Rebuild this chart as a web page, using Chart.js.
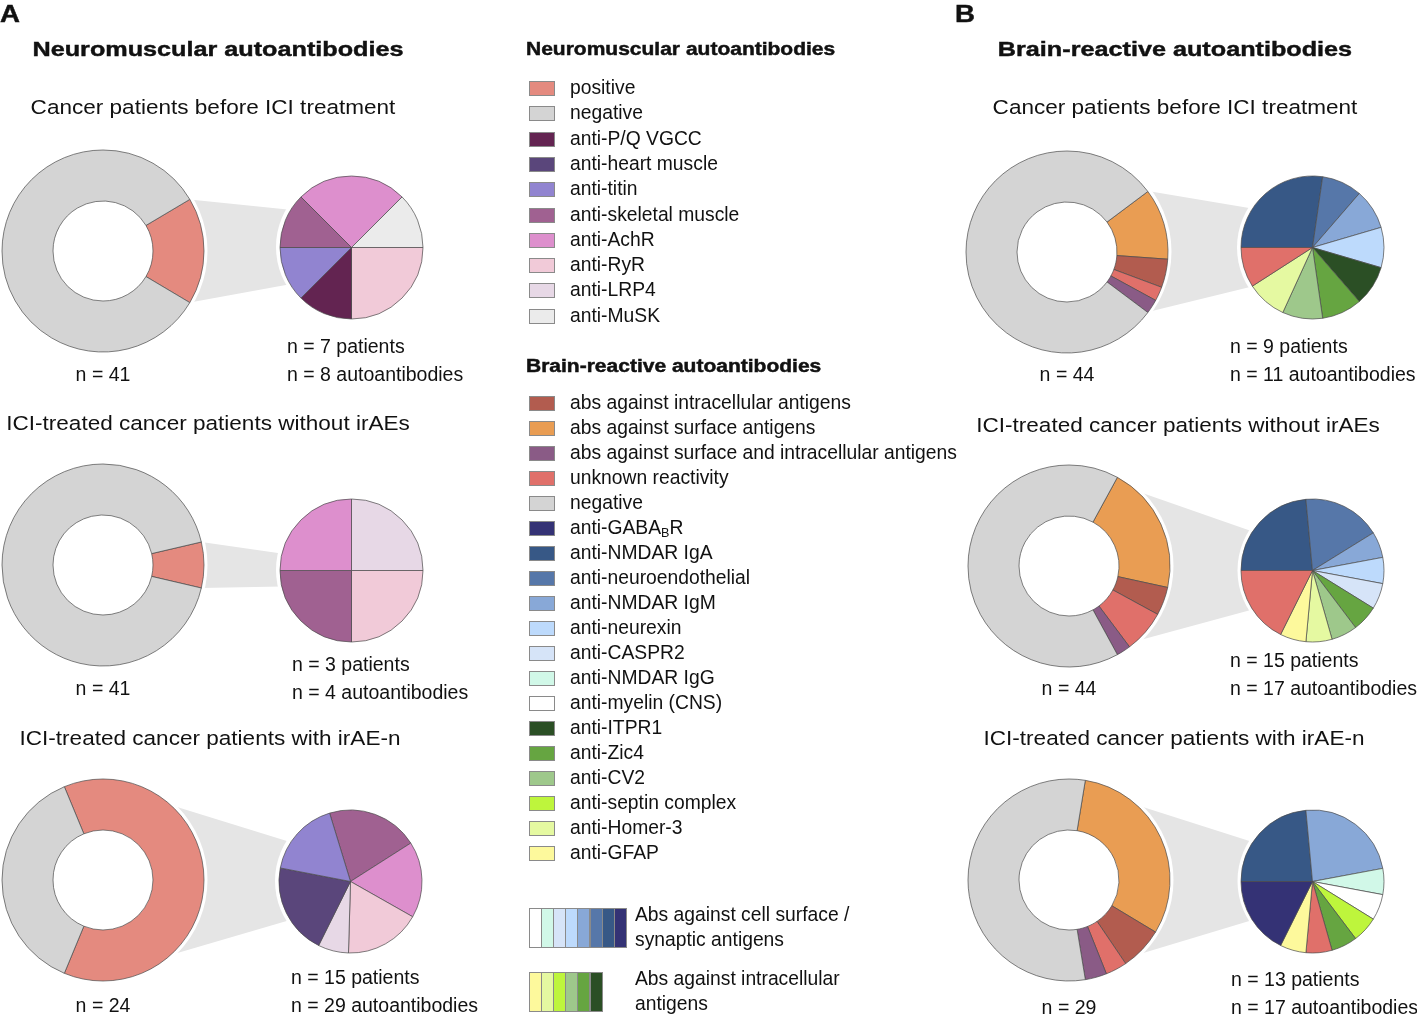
<!DOCTYPE html>
<html>
<head>
<meta charset="utf-8">
<script src="https://cdn.jsdelivr.net/npm/chart.js@4.4.1/dist/chart.umd.min.js"></script>
<style>
  body { margin:0; width:1417px; height:1016px; position:relative; overflow:hidden; background:#fff;
         font-family:"Liberation Sans", Arial, sans-serif; color:#111; }
  .t { position:absolute; white-space:nowrap; line-height:1; }
  .b { font-weight:bold; -webkit-text-stroke:0.45px #111; }
  .sw { position:absolute; box-sizing:border-box; border:1px solid #8a8a8a; }
  canvas.c { position:absolute; }
  sub { font-size:65%; vertical-align:-0.25em; line-height:0; }
</style>
</head>
<body>
<canvas id="links" width="1417" height="1016" style="position:absolute;left:0;top:0"></canvas>
<script>
// ---- data: neuromuscular (panel A) ----
const nmPositive = [7, 3, 15];
const nmNegative = [34, 38, 9];

const nmPie1Labels = ["anti-AchR", "anti-MuSK", "anti-RyR", "anti-P/Q VGCC", "anti-titin", "anti-skeletal muscle"];
const nmPie1Values = [2, 1, 2, 1, 1, 1];
const nmPie2Labels = ["anti-LRP4", "anti-RyR", "anti-skeletal muscle", "anti-AchR"];
const nmPie2Values = [1, 1, 1, 1];
const nmPie3Labels = ["anti-skeletal muscle", "anti-AchR", "anti-RyR", "anti-LRP4", "anti-heart muscle", "anti-titin"];
const nmPie3Values = [6, 5, 5, 2, 6, 5];

// ---- data: brain-reactive (panel B) ----
const brSurface = [5, 9, 9];
const brIntracellular = [2, 2, 2];
const brUnknown = [1, 3, 1];
const brBoth = [1, 1, 1];
const brNegative = [35, 29, 16];

const brPie1Labels = ["anti-NMDAR IgA", "anti-neuroendothelial", "anti-NMDAR IgM", "anti-neurexin", "anti-ITPR1", "anti-Zic4", "anti-CV2", "anti-Homer-3", "unknown reactivity"];
const brPie1Values = [3, 1, 1, 1, 1, 1, 1, 1, 1];
const brPie2Labels = ["anti-NMDAR IgA", "anti-neuroendothelial", "anti-NMDAR IgM", "anti-neurexin", "anti-CASPR2", "anti-Zic4", "anti-CV2", "anti-Homer-3", "anti-GFAP", "unknown reactivity"];
const brPie2Values = [4, 3, 1, 1, 1, 1, 1, 1, 1, 3];
const brPie3Labels = ["anti-NMDAR IgA", "anti-NMDAR IgM", "anti-NMDAR IgG", "anti-myelin (CNS)", "anti-septin complex", "anti-Zic4", "unknown reactivity", "anti-GFAP", "anti-GABABR"];
const brPie3Values = [4, 4, 1, 1, 1, 1, 1, 1, 3];

const rowTitles = ["Cancer patients before ICI treatment", "ICI-treated cancer patients without irAEs", "ICI-treated cancer patients with irAE-n"];

const nmLegend = ["positive", "negative", "anti-P/Q VGCC", "anti-heart muscle", "anti-titin", "anti-skeletal muscle", "anti-AchR", "anti-RyR", "anti-LRP4", "anti-MuSK"];
const brLegend = ["abs against intracellular antigens", "abs against surface antigens", "abs against surface and intracellular antigens", "unknown reactivity", "negative", "anti-GABABR", "anti-NMDAR IgA", "anti-neuroendothelial", "anti-NMDAR IgM", "anti-neurexin", "anti-CASPR2", "anti-NMDAR IgG", "anti-myelin (CNS)", "anti-ITPR1", "anti-Zic4", "anti-CV2", "anti-septin complex", "anti-Homer-3", "anti-GFAP"];
const surfaceScale = ["anti-myelin (CNS)", "anti-NMDAR IgG", "anti-CASPR2", "anti-neurexin", "anti-NMDAR IgM", "anti-neuroendothelial", "anti-NMDAR IgA", "anti-GABABR"];
const intraScale = ["anti-GFAP", "anti-Homer-3", "anti-septin complex", "anti-CV2", "anti-Zic4", "anti-ITPR1"];

// colours
const colors = {
  "positive": "#e48a7f", "negative": "#d4d4d4",
  "anti-P/Q VGCC": "#632451", "anti-heart muscle": "#5a467b", "anti-titin": "#9184d0",
  "anti-skeletal muscle": "#a06191", "anti-AchR": "#dd8fcd", "anti-RyR": "#f1cad8",
  "anti-LRP4": "#e7d8e6", "anti-MuSK": "#ebebeb",
  "abs against intracellular antigens": "#b25c4f", "abs against surface antigens": "#e99d53",
  "abs against surface and intracellular antigens": "#8a5b86", "unknown reactivity": "#e0706a",
  "anti-GABABR": "#343275", "anti-NMDAR IgA": "#375886", "anti-neuroendothelial": "#5677a9",
  "anti-NMDAR IgM": "#88a8d7", "anti-neurexin": "#bddafc", "anti-CASPR2": "#d6e4f8",
  "anti-NMDAR IgG": "#d1f8e8", "anti-myelin (CNS)": "#ffffff", "anti-ITPR1": "#2b4f25",
  "anti-Zic4": "#66a541", "anti-CV2": "#9ec88b", "anti-septin complex": "#bef53c",
  "anti-Homer-3": "#e5f9a1", "anti-GFAP": "#fdf99c"
};

const BOLDX = 1.2, SUBX = 1.1;
const DONUT_R = 101, PIE_R = 71.5;
const leftRows = [
  { dx: 103, dy: 251, px: 351, py: 247, ty: 107, tx: 213, ny: 375, lx: 287, ly: 347 },
  { dx: 103, dy: 565, px: 351, py: 570, ty: 423, tx: 208, ny: 689, lx: 292, ly: 665 },
  { dx: 103, dy: 880, px: 350, py: 881, ty: 738, tx: 210, ny: 1006, lx: 291, ly: 978 }
];
const rightRows = [
  { dx: 1067, dy: 251.5, px: 1312, py: 247.5, ty: 107, tx: 1175, ny: 375, lx: 1230, ly: 347 },
  { dx: 1069, dy: 566, px: 1312.5, py: 570.5, ty: 425, tx: 1178, ny: 689, lx: 1230, ly: 661 },
  { dx: 1069, dy: 880, px: 1312.5, py: 881, ty: 738, tx: 1174, ny: 1008, lx: 1231, ly: 980 }
];

function txt(html, x, y, size, opts) {
  opts = opts || {};
  const d = document.createElement("div");
  d.className = "t" + (opts.bold ? " b" : "");
  d.innerHTML = html;
  d.style.left = x + "px";
  d.style.top = y + "px";
  d.style.fontSize = size + "px";
  const k = opts.sx || 1;
  if (opts.center) {
    d.style.transform = "translate(-50%,-50%) scaleX(" + k + ")";
  } else {
    d.style.transformOrigin = "0 50%";
    d.style.transform = "translateY(-50%) scaleX(" + k + ")";
  }
  document.body.appendChild(d);
  return d;
}

function pieChart(cx, cy, r, labels, values, rotation, cutout) {
  const size = Math.round(2 * (r + 4));
  const cv = document.createElement("canvas");
  cv.className = "c";
  cv.width = size; cv.height = size;
  cv.style.left = (cx - size / 2) + "px";
  cv.style.top = (cy - size / 2) + "px";
  document.body.appendChild(cv);
  const chart = new Chart(cv, {
    type: cutout ? "doughnut" : "pie",
    data: {
      labels: labels,
      datasets: [{
        data: values,
        backgroundColor: labels.map(l => colors[l]),
        borderColor: "#4a4a4a",
        borderWidth: 0.7
      }]
    },
    options: {
      responsive: false,
      animation: false,
      radius: r,
      cutout: cutout || 0,
      rotation: rotation,
      events: [],
      plugins: { legend: { display: false }, tooltip: { enabled: false } }
    }
  });
  chart._left = cx - size / 2;
  chart._top = cy - size / 2;
  return chart;
}

function sum(a) { return a.reduce((s, v) => s + v, 0); }

// draws the grey wedge between a donut's positive part and its pie
function drawLink(ctx, donut, nPos, pie) {
  const arcs = donut.getDatasetMeta(0).data;
  const a0 = arcs[0].startAngle, a1 = arcs[nPos - 1].endAngle;
  const mid = (a0 + a1) / 2;
  const half = Math.min((a1 - a0) / 2, 48 * Math.PI / 180);
  const dcx = donut._left + arcs[0].x, dcy = donut._top + arcs[0].y;
  const R = arcs[0].outerRadius;
  const p1 = [dcx + R * Math.cos(mid - half), dcy + R * Math.sin(mid - half)];
  const p2 = [dcx + R * Math.cos(mid + half), dcy + R * Math.sin(mid + half)];
  const pa = pie.getDatasetMeta(0).data[0];
  const pcx = pie._left + pa.x, pcy = pie._top + pa.y, pr = pa.outerRadius;
  const h = Math.min(0.72 * (p2[1] - p1[1]) / 2, 39);
  const qx = pcx - Math.sqrt(pr * pr - h * h);
  ctx.fillStyle = "#e5e5e5";
  ctx.beginPath();
  ctx.moveTo(p1[0], p1[1]);
  ctx.lineTo(qx, pcy - h);
  ctx.lineTo(qx, pcy + h);
  ctx.lineTo(p2[0], p2[1]);
  ctx.closePath();
  ctx.fill();
  ctx.fillStyle = "#ffffff";
  ctx.beginPath(); ctx.arc(dcx, dcy, R + 3.5, 0, Math.PI * 2); ctx.fill();
  ctx.beginPath(); ctx.arc(pcx, pcy, pr + 3.5, 0, Math.PI * 2); ctx.fill();
}

const linkCtx = document.getElementById("links").getContext("2d");

// ---- panel A ----
txt("A", 0, 14, 23, { bold: true, sx: BOLDX });
txt("Neuromuscular autoantibodies", 218, 48, 21, { bold: true, center: true, sx: BOLDX });
const nmPies = [[nmPie1Labels, nmPie1Values, -45], [nmPie2Labels, nmPie2Values, 0], [nmPie3Labels, nmPie3Values, -17]];
leftRows.forEach((g, i) => {
  const total = nmPositive[i] + nmNegative[i];
  const span = nmPositive[i] / total * 360;
  const donut = pieChart(g.dx, g.dy, DONUT_R, ["positive", "negative"], [nmPositive[i], nmNegative[i]], 90 - span / 2, "49.5%");
  const pie = pieChart(g.px, g.py, PIE_R, nmPies[i][0], nmPies[i][1], nmPies[i][2]);
  drawLink(linkCtx, donut, 1, pie);
  txt(rowTitles[i], g.tx, g.ty, 20.5, { center: true, sx: SUBX });
  txt("n = " + total, g.dx, g.ny, 19.5, { center: true });
  txt("n = " + nmPositive[i] + " patients", g.lx, g.ly, 19.5);
  txt("n = " + sum(nmPies[i][1]) + " autoantibodies", g.lx, g.ly + 28, 19.5);
});

// ---- panel B ----
txt("B", 955, 14, 23, { bold: true, sx: BOLDX });
txt("Brain-reactive autoantibodies", 1175, 48, 21, { bold: true, center: true, sx: BOLDX });
const brPies = [[brPie1Labels, brPie1Values], [brPie2Labels, brPie2Values], [brPie3Labels, brPie3Values]];
const brDonutLabels = ["abs against surface antigens", "abs against intracellular antigens", "unknown reactivity", "abs against surface and intracellular antigens", "negative"];
rightRows.forEach((g, i) => {
  const vals = [brSurface[i], brIntracellular[i], brUnknown[i], brBoth[i], brNegative[i]];
  const pos = vals[0] + vals[1] + vals[2] + vals[3];
  const total = sum(vals);
  const span = pos / total * 360;
  const donut = pieChart(g.dx, g.dy, DONUT_R, brDonutLabels, vals, 90 - span / 2, "49.5%");
  const pie = pieChart(g.px, g.py, PIE_R, brPies[i][0], brPies[i][1], -90);
  drawLink(linkCtx, donut, 4, pie);
  txt(rowTitles[i], g.tx, g.ty, 20.5, { center: true, sx: SUBX });
  txt("n = " + total, g.dx, g.ny, 19.5, { center: true });
  txt("n = " + pos + " patients", g.lx, g.ly, 19.5);
  txt("n = " + sum(brPies[i][1]) + " autoantibodies", g.lx, g.ly + 28, 19.5);
});

// ---- legend (middle column) ----
function legendLabel(l) { return l.replace("GABABR", "GABA<sub>B</sub>R"); }
function swatch(x, y, w, h, color) {
  const s = document.createElement("div");
  s.className = "sw";
  s.style.left = x + "px"; s.style.top = y + "px";
  s.style.width = w + "px"; s.style.height = h + "px";
  s.style.background = color;
  document.body.appendChild(s);
}
txt("Neuromuscular autoantibodies", 526, 50, 17.5, { bold: true, sx: BOLDX });
nmLegend.forEach((l, i) => {
  const y = 88 + i * 25.3;
  swatch(529, y - 7, 26, 15, colors[l]);
  txt(legendLabel(l), 570, y, 19.3);
});
txt("Brain-reactive autoantibodies", 526, 367, 17.5, { bold: true, sx: BOLDX });
brLegend.forEach((l, i) => {
  const y = 403 + i * 25.0;
  swatch(529, y - 7, 26, 15, colors[l]);
  txt(legendLabel(l), 570, y, 19.3);
});
surfaceScale.forEach((l, i) => swatch(529 + i * 12.1, 908, 13, 40, colors[l]));
txt("Abs against cell surface /", 635, 915, 19.3);
txt("synaptic antigens", 635, 940, 19.3);
intraScale.forEach((l, i) => swatch(529 + i * 12.1, 972, 13, 40, colors[l]));
txt("Abs against intracellular", 635, 979, 19.3);
txt("antigens", 635, 1004, 19.3);
</script>
</body>
</html>
